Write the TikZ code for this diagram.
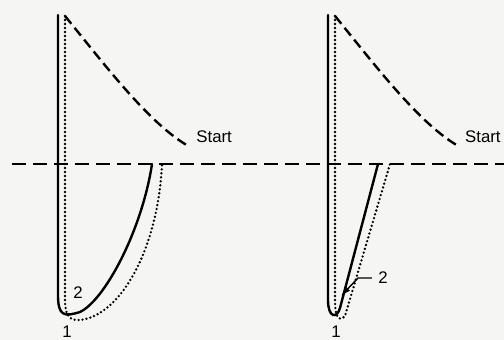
\documentclass[tikz,border=0pt]{standalone}
\usepackage{fontspec}
\setmainfont{Liberation Sans}
\usetikzlibrary{arrows.meta}
\definecolor{paper}{RGB}{245,245,243}
\begin{document}
\begin{tikzpicture}[x=0.5pt, y=-0.5pt,
  trace/.style={line width=1.2pt, line cap=round},
  dotty/.style={line width=1.3pt, line cap=round, dash pattern=on 0pt off 2pt},
  swing/.style={line width=1.2pt, dash pattern=on 5pt off 2.6pt},
  baseln/.style={line width=1.2pt, dash pattern=on 7pt off 3.5pt},
  lbl/.style={font=\fontsize{8.4}{10}\selectfont, inner sep=1pt}]
\fill[paper] (0,0) rectangle (504,340);
\useasboundingbox (0,0) rectangle (504,340);
% base line
\coordinate (baseW) at (12,164);
\coordinate (baseE) at (504,164);
\draw[baseln] (baseW) -- (baseE);
% left swing
\draw[swing] (65,16) .. controls (105,65) and (150,125) .. (190,147);
\draw[trace] (58,15) -- (58,295) .. controls (58,316) and (64,317) .. (80,312)
  .. controls (105,300) and (142,230) .. (152,164);
\draw[dotty] (65,16) -- (65,300) .. controls (65,316) and (70,321) .. (80,320)
  .. controls (120,316) and (158,250) .. (162,164);
\node[lbl, anchor=west] (startL) at (194,137) {Start};
\node[lbl] (oneL) at (67,332) {1};
\node[lbl] (twoL) at (78,293) {2};
% right swing
\draw[swing] (335,16) .. controls (375,65) and (420,125) .. (460,147);
\draw[trace] (328,15) -- (328,300) .. controls (328,318) and (337,319) .. (340,308)
  -- (378,164);
\draw[dotty] (335,16) -- (335,300) .. controls (335,318) and (339,322) .. (345,316)
  -- (390,164);
\node[lbl, anchor=east] (startR) at (503,137) {Start};
\node[lbl] (oneR) at (336,332) {1};
\node[lbl] (twoR) at (383,278) {2};
\coordinate (bendR) at (358,278);
\coordinate (tipR) at (341,296);
\draw[line width=0.7pt, -{Latex[length=5pt,width=3pt]}] ([xshift=-2pt]twoR.west) -- (bendR) -- (tipR);
\end{tikzpicture}
\end{document}
